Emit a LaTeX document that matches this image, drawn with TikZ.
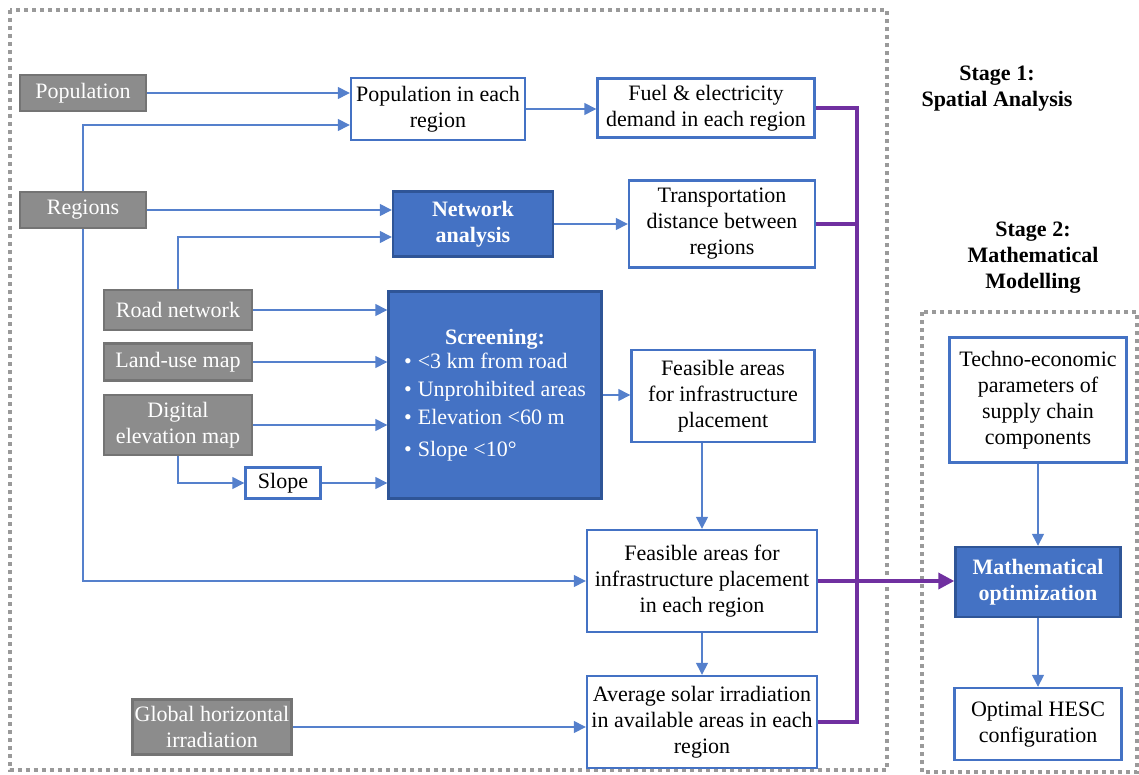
\documentclass[tikz,border=0pt]{standalone}
\usepackage{fontspec}
\setmainfont{Liberation Serif}
\usepackage{tikz}
\usetikzlibrary{arrows.meta, calc}

\definecolor{greyfill}{HTML}{8C8C8C}
\definecolor{greyedge}{HTML}{747474}
\definecolor{boxblue}{HTML}{4472C4}
\definecolor{blueedge}{HTML}{2F5597}
\definecolor{arrowblue}{HTML}{5580CC}
\definecolor{hescpurple}{HTML}{7030A0}
\definecolor{framegrey}{HTML}{9A9A9A}

\newcommand{\boxfont}{\fontsize{11}{13}\selectfont}
\newcommand{\scrnitem}[1]{\mdseries\textbullet\hspace{3pt}#1}

\tikzset{
    inbox/.style={draw=greyedge, fill=greyfill, text=white, line width=1.2pt,
        inner sep=1pt, align=center, font=\boxfont},
    outbox/.style={draw=boxblue, fill=white, line width=1.2pt,
        inner sep=1pt, align=center, font=\boxfont},
    keybox/.style={draw=blueedge, fill=boxblue, text=white, line width=1.2pt,
        inner sep=1pt, align=center, font=\boxfont\bfseries},
    arr/.style={draw=arrowblue, line width=0.7pt, -{Triangle[length=6pt,width=6pt]}},
    busline/.style={draw=hescpurple, line width=1.8pt},
    stageframe/.style={draw=framegrey, line width=2pt, dash pattern=on 2pt off 2pt}
}

\begin{document}
\begin{tikzpicture}[x=0.5pt, y=-0.5pt]
    \useasboundingbox (0,0) rectangle (1139,775);

    % Stage frames
    \draw[stageframe] (10,10) rectangle (887,770);
    \draw[stageframe] (922,312) rectangle (1137,772);

    \node[font=\boxfont\bfseries, align=center] (stage1) at (997,89) {Stage 1:\\Spatial Analysis};
    \node[font=\boxfont\bfseries, align=center] (stage2) at (1033,258) {Stage 2:\\Mathematical\\Modelling};

    % Input data
    \node[inbox, minimum width=63pt, minimum height=18pt] (pop) at (83,93) {Population};
    \node[inbox, minimum width=63pt, minimum height=18pt] (reg) at (83,210) {Regions};
    \node[inbox, minimum width=74pt, minimum height=20pt] (road) at (178,310) {Road network};
    \node[inbox, minimum width=74pt, minimum height=18.5pt] (land) at (178,362) {Land-use map};
    \node[inbox, minimum width=74pt, minimum height=30pt] (dem) at (178,425) {Digital\\elevation map};
    \node[inbox, minimum width=79.5pt, minimum height=27.5pt] (ghi) at (212,727) {Global horizontal\\irradiation};
    \node[outbox, minimum width=37.5pt, minimum height=15.5pt] (slope) at (283,483) {Slope};

    % Spatial analysis steps
    \node[outbox, minimum width=87pt, minimum height=31pt] (popreg) at (438,109) {Population in each\\region};
    \node[keybox, minimum width=80pt, minimum height=32.5pt] (net) at (473,224) {Network\\analysis};
    \node[keybox, minimum width=106.5pt, minimum height=103.5pt] (screen) at (495,395) {%
        \begin{tabular}{@{}l@{}}
            \multicolumn{1}{@{}c@{}}{Screening:}\\[-1pt]
            \scrnitem{<3 km from road}\\[1pt]
            \scrnitem{Unprohibited areas}\\[1pt]
            \scrnitem{Elevation <60 m}\\[3pt]
            \scrnitem{Slope <10°}
        \end{tabular}};
    \node[outbox, minimum width=108.5pt, minimum height=29.5pt] (fuel) at (706,108) {Fuel \& electricity\\demand in each region};
    \node[outbox, minimum width=93pt, minimum height=43.5pt] (trans) at (722,224) {Transportation\\distance between\\regions};
    \node[outbox, minimum width=91.5pt, minimum height=46pt] (feas) at (723,396) {Feasible areas\\for infrastructure\\placement};
    \node[outbox, minimum width=115pt, minimum height=51pt] (feasreg) at (702,581) {Feasible areas for\\infrastructure placement\\in each region};
    \node[outbox, minimum width=115pt, minimum height=46pt] (avg) at (702,722) {Average solar irradiation\\in available areas in each\\region};

    % Mathematical modelling
    \node[outbox, minimum width=88.5pt, minimum height=62.5pt] (techno) at (1038,400) {Techno-economic\\parameters of\\supply chain\\components};
    \node[keybox, minimum width=82.5pt, minimum height=35pt] (mathopt) at (1038,582) {Mathematical\\optimization};
    \node[outbox, minimum width=83.5pt, minimum height=36pt] (hesc) at (1038,724) {Optimal HESC\\configuration};

    % Data flow
    \draw[arr] (pop.east) -- (pop.east -| popreg.west);
    \draw[arr] (reg.north) |- ([yshift=-8pt]popreg.west);
    \draw[arr] (reg.east) -- (reg.east -| net.west);
    \draw[arr] (road.north) |- ([yshift=-6.5pt]net.west);
    \foreach \src in {road,land,dem,slope} {
        \draw[arr] (\src.east) -- (\src.east -| screen.west);
    }
    \draw[arr] (dem.south) |- (slope.west);
    \draw[arr] (reg.south) |- (feasreg.west);
    \draw[arr] (popreg.east) -- (popreg.east -| fuel.west);
    \draw[arr] (net.east) -- (trans.west);
    \draw[arr] (screen.east) -- (screen.east -| feas.west);
    \draw[arr] (feasreg.north |- feas.south) -- (feasreg.north);
    \draw[arr] (feasreg.south) -- (avg.north);
    \draw[arr] (ghi.east) -- (ghi.east -| avg.west);
    \draw[arr] (techno.south) -- (mathopt.north);
    \draw[arr] (mathopt.south) -- (hesc.north);

    % Outputs to the optimization
    \coordinate (bus) at (857,0);
    \draw[busline] (fuel.east) -| (bus |- avg.east) -- (avg.east);
    \draw[busline] (trans.east) -- (trans.east -| bus);
    \draw[busline, -{Triangle[length=8pt,width=8pt]}] (feasreg.east) -- (feasreg.east -| mathopt.west);
\end{tikzpicture}
\end{document}
